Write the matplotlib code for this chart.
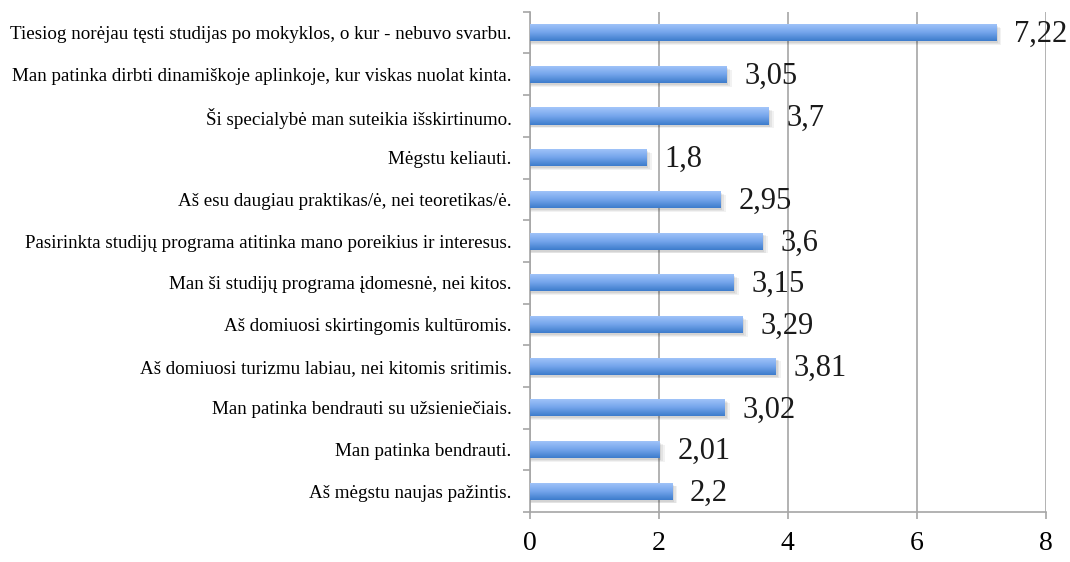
import numpy as np
import matplotlib
matplotlib.use("Agg")
import matplotlib.pyplot as plt
from matplotlib.colors import LinearSegmentedColormap

# top to bottom as shown in the chart
labels = [
    "Tiesiog norėjau tęsti studijas po mokyklos, o kur - nebuvo svarbu.",
    "Man patinka dirbti dinamiškoje aplinkoje, kur viskas nuolat kinta.",
    "Ši specialybė man suteikia išskirtinumo.",
    "Mėgstu keliauti.",
    "Aš esu daugiau praktikas/ė, nei teoretikas/ė.",
    "Pasirinkta studijų programa atitinka mano poreikius ir interesus.",
    "Man ši studijų programa įdomesnė, nei kitos.",
    "Aš domiuosi skirtingomis kultūromis.",
    "Aš domiuosi turizmu labiau, nei kitomis sritimis.",
    "Man patinka bendrauti su užsieniečiais.",
    "Man patinka bendrauti.",
    "Aš mėgstu naujas pažintis.",
]
values = [7.22, 3.05, 3.7, 1.8, 2.95, 3.6, 3.15, 3.29, 3.81, 3.02, 2.01, 2.2]
value_text = ["7,22", "3,05", "3,7", "1,8", "2,95", "3,6", "3,15", "3,29", "3,81", "3,02", "2,01", "2,2"]
xticks = [0, 2, 4, 6, 8]

plt.rcParams["font.family"] = ["Liberation Serif", "DejaVu Serif"]

fig = plt.figure(figsize=(10.7, 5.62), dpi=100)
ax = fig.add_axes([0.495, 0.089, 0.4826, 0.89])

n = len(labels)
y = np.arange(n)[::-1]
h = 0.41

grey = "#a6a6a6"
cmap = LinearSegmentedColormap.from_list("bar", ["#a4c6fa", "#76a6ec", "#3d7ccc"])
grad = np.linspace(0, 1, 64).reshape(-1, 1)

for yi, v in zip(y, values):
    # soft shadow
    for k, a in enumerate([0.07, 0.06, 0.05]):
        ax.barh(yi - 0.05 - 0.02 * k, v + 0.03 * (k + 1), height=h, left=0.0,
                color="#000000", alpha=a, linewidth=0, zorder=2)
    bar = ax.barh(yi, v, height=h, color="#6fa0e8", linewidth=0, zorder=3)[0]
    im = ax.imshow(grad, cmap=cmap, aspect="auto", zorder=4,
                   extent=[0, v, yi - h / 2, yi + h / 2], origin="upper")
    im.set_clip_path(bar)

for yi, v, t in zip(y, values, value_text):
    ax.text(v + 0.28, yi - 0.05, t, va="center", ha="left", fontsize=22,
            color="#1a1a1a", zorder=5)

ax.set_xlim(0, 8)
ax.set_ylim(-0.5, n - 0.5)
ax.set_xticks(xticks)
ax.set_xticklabels([str(t) for t in xticks], fontsize=20)
ax.set_yticks(y)
ax.set_yticklabels(labels, fontsize=13.7)
ax.set_yticks(np.arange(n + 1) - 0.5, minor=True)
ax.tick_params(axis="y", which="major", length=0, pad=13)
ax.tick_params(axis="y", which="minor", length=5, color=grey, width=1.2)
ax.tick_params(axis="x", length=5, color=grey, width=1.2, pad=9)

ax.grid(axis="x", color=grey, linewidth=1.2, zorder=0)
ax.set_axisbelow(True)
for s in ["top", "right"]:
    ax.spines[s].set_visible(False)
for s in ["left", "bottom"]:
    ax.spines[s].set_color(grey)
    ax.spines[s].set_linewidth(1.2)

fig.savefig("out.png", dpi=100)
